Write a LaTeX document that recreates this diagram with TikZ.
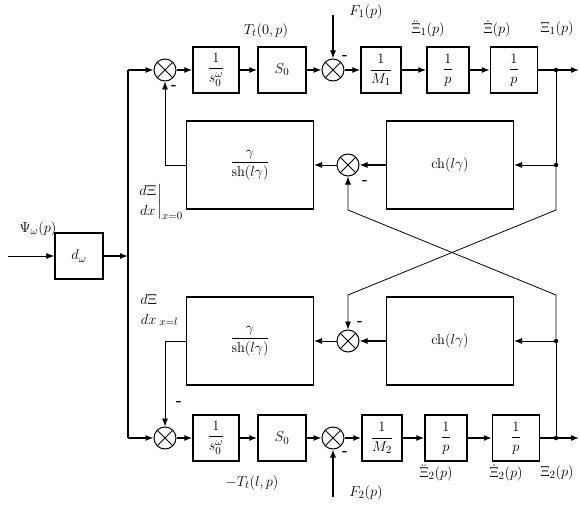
\documentclass[tikz,border=0pt]{standalone}
\usepackage{amsmath}
\usetikzlibrary{arrows.meta}

\begin{document}
\begin{tikzpicture}[x=1pt,y=1pt,font=\fontsize{15}{17}\selectfont,
  blk/.style={draw,line width=1.4pt,minimum width=#1,minimum height=46pt,inner sep=1pt},blk/.default=46pt,
  big/.style={draw,line width=1.2pt,minimum width=127pt,minimum height=88pt},
  sum/.style={circle,draw,line width=1pt,minimum size=22pt,inner sep=0pt,
    path picture={\draw[line width=1pt] (path picture bounding box.north west)--(path picture bounding box.south east)
      (path picture bounding box.north east)--(path picture bounding box.south west);}},
  sig/.style={line width=1.3pt,-{Latex[length=8pt,width=6pt]}},
  fb/.style={line width=0.8pt,-{Latex[length=8pt,width=6pt]}},
  dot/.style={circle,fill,inner sep=0pt,minimum size=4.5pt}]
\useasboundingbox (0,0) rectangle (580,515);
% input and bus
\coordinate (in) at (8,259);
\node[blk=48pt] (dw) at (79,259) {$d_{\omega}$};
\coordinate (bus) at (128,259);
\node (psi) at (38,286) {$\Psi_{\omega}(p)$};
\draw[fb] (in) -- (dw);
\draw[sig] (dw) -- (bus);
% upper chain
\node[sum] (s1) at (165,445) {};
\node[blk] (a1) at (216,445) {$\dfrac{1}{s_0^{\omega}}$};
\node[blk=48pt] (b1) at (282,445) {$S_0$};
\node[sum] (s2) at (333,445) {};
\node[blk=40pt] (m1) at (381,445) {$\dfrac{1}{M_1}$};
\node[blk=42pt] (p1) at (448,445) {$\dfrac{1}{p}$};
\node[blk=47pt] (q1) at (514,445) {$\dfrac{1}{p}$};
\node[dot] (j1) at (556,445) {};
\coordinate (o1) at (579,445);
\coordinate (f1) at (333,500);
% lower chain
\node[sum] (s5) at (165,77) {};
\node[blk] (a2) at (216,77) {$\dfrac{1}{s_0^{\omega}}$};
\node[blk=48pt] (b2) at (282,77) {$S_0$};
\node[sum] (s6) at (333,77) {};
\node[blk=40pt] (m2) at (382,77) {$\dfrac{1}{M_2}$};
\node[blk=42pt] (p2) at (446,77) {$\dfrac{1}{p}$};
\node[blk=47pt] (q2) at (516,77) {$\dfrac{1}{p}$};
\node[dot] (j4) at (556,77) {};
\coordinate (o2) at (579,77);
\coordinate (f2) at (333,18);
% middle rows
\node[big] (g1) at (250,350) {$\dfrac{\gamma}{\operatorname{sh}(l\gamma)}$};
\node[sum] (s3) at (348,350) {};
\node[big] (c1) at (450,350) {$\operatorname{ch}(l\gamma)$};
\node[dot] (j2) at (556,350) {};
\node[big] (g2) at (250,174) {$\dfrac{\gamma}{\operatorname{sh}(l\gamma)}$};
\node[sum] (s4) at (348,174) {};
\node[big] (c2) at (450,174) {$\operatorname{ch}(l\gamma)$};
\node[dot] (j3) at (556,174) {};

\draw[line width=1.3pt] (bus |- s1) -- (bus |- s5);
\draw[sig] (bus |- s1) -- (s1);
\draw[sig] (bus |- s5) -- (s5);
\foreach \a/\b in {s1/a1,a1/b1,b1/s2,s2/m1,m1/p1,p1/q1,s5/a2,a2/b2,b2/s6,s6/m2,m2/p2,p2/q2} {
   \draw[sig] (\a) -- (\b);
}
\draw[sig] (q1) -- (o1);
\draw[sig] (q2) -- (o2);
\draw[sig] (f1) -- (s2);
\draw[sig] (f2) -- (s6);
% feedback
\draw[fb] (g1.west) -| (s1.south);
\draw[fb] (g2.west) -| (s5.north);
\draw[sig] (c1) -- (s3);
\draw[sig] (c2) -- (s4);
\draw[fb] (s3) -- (g1);
\draw[fb] (s4) -- (g2);
\draw[fb] (j2) -- (c1);
\draw[fb] (j3) -- (c2);
\draw[line width=0.8pt] (j1) -- (j2);
\draw[line width=0.8pt] (j4) -- (j3);
\draw[fb] (j2) -- ++(0,-45) -- (348,220) -- (s4.north);
\draw[fb] (j3) -- ++(0,46) -- (348,305) -- (s3.south);
% signs and labels
\foreach \x/\y [count=\i] in {174/428,345/458,365/333,360/192,179/112,345/62} {
   \node (minus\i) at (\x,\y) {\textbf{-}};
}
\node (F1) at (366,503) {$F_1(p)$};
\node (t0) at (266,484) {$T_t(0,p)$};
\node (xa1) at (428,486) {$\ddot{\Xi}_1(p)$};
\node (xv1) at (497,486) {$\dot{\Xi}(p)$};
\node (xi1) at (557,486) {$\Xi_1(p)$};
\node (tl) at (252,32) {$-T_t(l,p)$};
\node (F2) at (366,22) {$F_2(p)$};
\node (xa2) at (436,42) {$\ddot{\Xi}_2(p)$};
\node (xv2) at (506,42) {$\dot{\Xi}_2(p)$};
\node (xi2) at (557,42) {$\Xi_2(p)$};
\node (dx0) at (160,313) {$\left.\genfrac{}{}{0pt}{0}{d\Xi}{dx}\right|_{x=0}$};
\node (dxl) at (158,205) {$\left.\genfrac{}{}{0pt}{0}{d\Xi}{dx}\right._{x=l}$};
\end{tikzpicture}
\end{document}
